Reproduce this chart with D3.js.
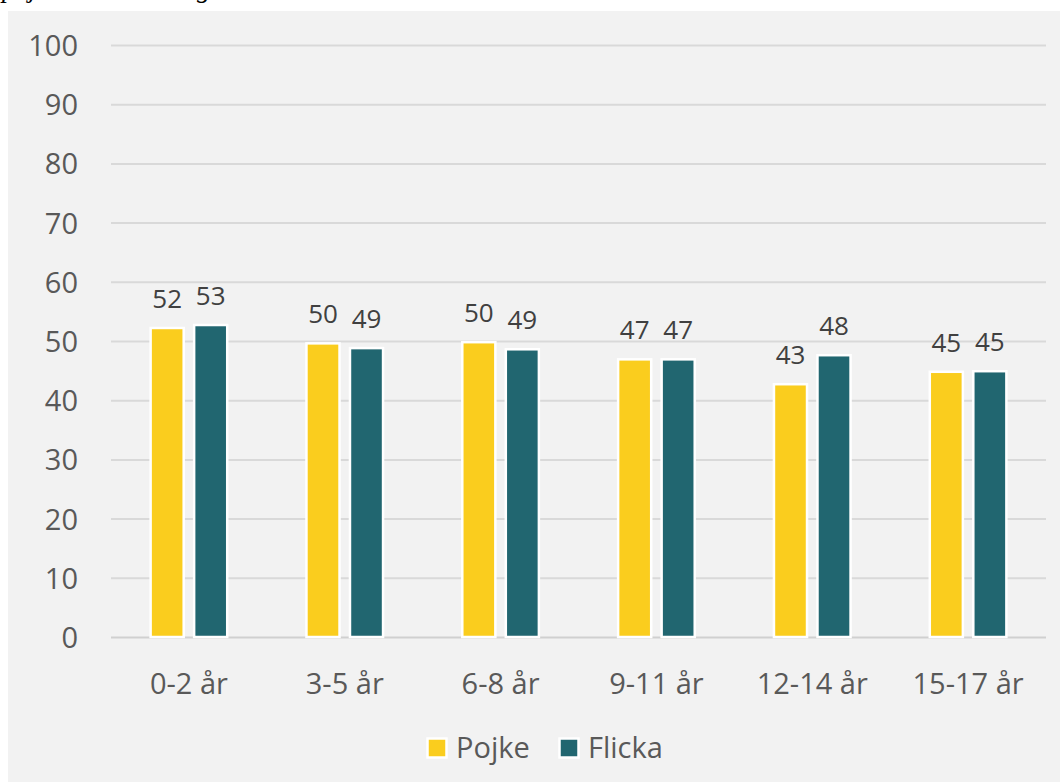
<!DOCTYPE html>
<html><head><meta charset="utf-8">
<script src="https://cdn.jsdelivr.net/npm/d3@7/dist/d3.min.js"></script>
<style>
html,body{margin:0;padding:0;background:#fff;overflow:hidden;}
svg{display:block;}
</style></head>
<body>
<script>
const categories = ["0-2 år","3-5 år","6-8 år","9-11 år","12-14 år","15-17 år"];
const seriesNames = ["Pojke","Flicka"];
const pojke = [52.2, 49.6, 49.8, 46.9, 42.7, 44.8];
const flicka = [52.7, 48.8, 48.6, 46.9, 47.6, 44.9];
const yTicks = [0,10,20,30,40,50,60,70,80,90,100];
const colors = ["#FACD1E","#216670"];

(function(){
const W=1060,H=782;
const svg=d3.select("body").append("svg").attr("width",W).attr("height",H);
// cut-off caption above
svg.append("text").attr("x",2).attr("y",-3)
  .attr("font-family","'Liberation Serif','DejaVu Serif',serif").attr("font-style","italic")
  .attr("font-size",27).attr("fill","#000").text("pojke tar av en dag.");
svg.append("rect").attr("x",8).attr("y",11).attr("width",W-8).attr("height",H-11).attr("fill","#f2f2f2");

const mL=111,mR=1046,mT=45,mB=637;
const y=d3.scaleLinear().domain([0,100]).range([mB,mT]);
const x0=d3.scaleBand().domain(categories).range([mL,mR]);
const x1=d3.scaleBand().domain(seriesNames).range([-38.3,38.3]).paddingInner(0.24);

const font="'Open Sans','Noto Sans',sans-serif";

// gridlines
const yAxis=d3.axisLeft(y).tickValues(yTicks).tickSize(-(mR-mL)).tickFormat(d3.format("d"));
const gy=svg.append("g").attr("transform",`translate(${mL},0)`).call(yAxis);
gy.select(".domain").remove();
gy.selectAll(".tick line").attr("stroke",d=>d===0?"#d0d0d0":"#d9d9d9").attr("stroke-width",2);
gy.selectAll(".tick text").attr("x",-33).attr("dy","0.36em").attr("font-family",font).attr("font-size",29).attr("fill","#595959");

// bars
const data=categories.map((c,i)=>({c,vals:[pojke[i],flicka[i]]}));
const groups=svg.append("g").selectAll("g").data(data).join("g")
  .attr("transform",d=>`translate(${x0(d.c)+x0.bandwidth()/2},0)`);
groups.selectAll("rect").data(d=>d.vals.map((v,j)=>({v,s:seriesNames[j],j}))).join("rect")
  .attr("x",d=>x1(d.s)).attr("width",x1.bandwidth())
  .attr("y",d=>y(d.v)).attr("height",d=>y(0)-y(d.v))
  .attr("fill",d=>colors[d.j]).attr("stroke","#fff").attr("stroke-width",2.5);
groups.selectAll("text").data(d=>d.vals.map((v,j)=>({v,s:seriesNames[j],j}))).join("text")
  .attr("x",d=>x1(d.s)+x1.bandwidth()/2).attr("y",d=>y(d.v)-20)
  .attr("text-anchor","middle").attr("font-family",font).attr("font-size",26).attr("fill","#404040")
  .text(d=>d3.format(".0f")(d.v));

// x axis labels
const xAxis=d3.axisBottom(x0).tickSize(0).tickPadding(0);
const gx=svg.append("g").attr("transform",`translate(0,${mB})`).call(xAxis);
gx.select(".domain").remove();
gx.selectAll(".tick text").attr("dy",0).attr("y",57).attr("font-family",font).attr("font-size",29).attr("fill","#595959");

// legend
const leg=svg.append("g");
const legItems=[{n:"Pojke",x:427.5},{n:"Flicka",x:559.5}];
legItems.forEach((it,j)=>{
  leg.append("rect").attr("x",it.x).attr("y",738.5).attr("width",19).attr("height",19)
    .attr("fill",colors[j]).attr("stroke","#fff").attr("stroke-width",2.5);
  leg.append("text").attr("x",it.x+28.5).attr("y",758).attr("font-family",font).attr("font-size",29)
    .attr("fill","#595959").text(it.n);
});
})();
</script>
</body></html>
